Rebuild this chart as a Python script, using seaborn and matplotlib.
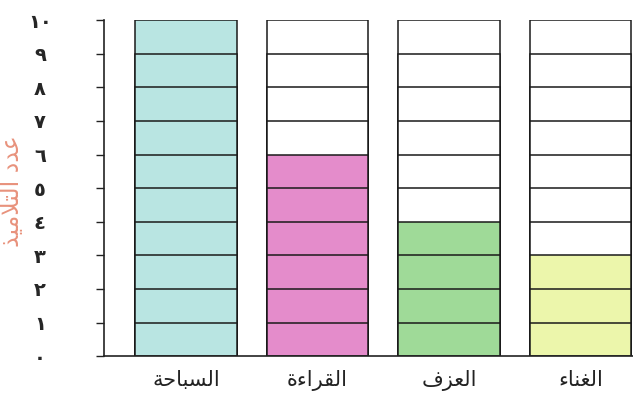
import matplotlib
matplotlib.use("Agg")
import matplotlib.pyplot as plt
import seaborn as sns

# ---- data ----
categories = ["السباحة", "القراءة", "العزف", "الغناء"]
values = [10, 6, 4, 3]
fill_colors = ["#b9e5e2", "#e48ccb", "#9fda98", "#ecf6ab"]
y_ticks = [0, 1, 2, 3, 4, 5, 6, 7, 8, 9, 10]
y_tick_labels = ["٠", "١", "٢", "٣", "٤", "٥", "٦", "٧", "٨", "٩", "١٠"]
y_title = "عدد التلاميذ"
max_cells = 10

# ---- minimal Arabic shaping (matplotlib has no shaping engine) ----
FORMS = {
    'ء': ('\uFE80', None, None, None),
    'ا': ('\uFE8D', '\uFE8E', None, None),
    'ب': ('\uFE8F', '\uFE90', '\uFE91', '\uFE92'),
    'ة': ('\uFE93', '\uFE94', None, None),
    'ت': ('\uFE95', '\uFE96', '\uFE97', '\uFE98'),
    'ح': ('\uFEA1', '\uFEA2', '\uFEA3', '\uFEA4'),
    'د': ('\uFEA9', '\uFEAA', None, None),
    'ذ': ('\uFEAB', '\uFEAC', None, None),
    'ر': ('\uFEAD', '\uFEAE', None, None),
    'ز': ('\uFEAF', '\uFEB0', None, None),
    'س': ('\uFEB1', '\uFEB2', '\uFEB3', '\uFEB4'),
    'ع': ('\uFEC9', '\uFECA', '\uFECB', '\uFECC'),
    'غ': ('\uFECD', '\uFECE', '\uFECF', '\uFED0'),
    'ف': ('\uFED1', '\uFED2', '\uFED3', '\uFED4'),
    'ق': ('\uFED5', '\uFED6', '\uFED7', '\uFED8'),
    'ل': ('\uFEDD', '\uFEDE', '\uFEDF', '\uFEE0'),
    'م': ('\uFEE1', '\uFEE2', '\uFEE3', '\uFEE4'),
    'ن': ('\uFEE5', '\uFEE6', '\uFEE7', '\uFEE8'),
    'ي': ('\uFEF1', '\uFEF2', '\uFEF3', '\uFEF4'),
}
LAM_ALEF = ('\uFEFB', '\uFEFC', None, None)


def shape(s):
    tokens = []
    i = 0
    while i < len(s):
        c = s[i]
        if c == 'ل' and i + 1 < len(s) and s[i + 1] == 'ا':
            tokens.append((c, LAM_ALEF))
            i += 2
        else:
            tokens.append((c, FORMS.get(c)))
            i += 1
    out = []
    for j, (c, f) in enumerate(tokens):
        if f is None:
            out.append(c)
            continue
        prev = tokens[j - 1][1] if j > 0 else None
        nxt = tokens[j + 1][1] if j + 1 < len(tokens) else None
        jp = prev is not None and prev[2] is not None and f[1] is not None
        jn = f[2] is not None and nxt is not None and nxt[1] is not None
        if jp and jn:
            g = f[3]
        elif jp:
            g = f[1]
        elif jn:
            g = f[2]
        else:
            g = f[0]
        out.append(g)
    return ''.join(reversed(out))


# ---- plot ----
sns.set_style("white")
plt.rcParams['font.family'] = ['DejaVu Sans']

fig = plt.figure(figsize=(6.33, 3.94), dpi=100)
ax = fig.add_axes([0.164, 0.096, 0.836, 0.853])

for k in range(max_cells, 0, -1):
    heights = [k] * len(categories)
    cols = [fc if k <= v else "white" for fc, v in zip(fill_colors, values)]
    sns.barplot(x=categories, y=heights, hue=categories, palette=cols,
                legend=False, width=0.77, edgecolor="#1a1a1a", linewidth=1.1,
                saturation=1, errorbar=None, ax=ax)

ax.set_xlim(-0.625, 3.40)
ax.set_ylim(0, 10)
ax.set_yticks(y_ticks)
ax.set_yticklabels(y_tick_labels, fontsize=14, fontweight="bold", ha="center")
ax.tick_params(axis="y", length=6, width=1.0, color="#222222", pad=40, left=True)
ax.set_xticks(range(len(categories)))
ax.set_xticklabels([shape(c) for c in categories], fontsize=15, color="#222222")
ax.tick_params(axis="x", length=0, pad=10)

ax.set_ylabel(shape(y_title), fontsize=17, color="#e8927c", rotation=90)
ax.yaxis.set_label_coords(-0.15, 0.49)

for s in ["top", "right"]:
    ax.spines[s].set_visible(False)
for s in ["left", "bottom"]:
    ax.spines[s].set_color("#222222")
    ax.spines[s].set_linewidth(1.2)

fig.savefig("out.png", dpi=100)
